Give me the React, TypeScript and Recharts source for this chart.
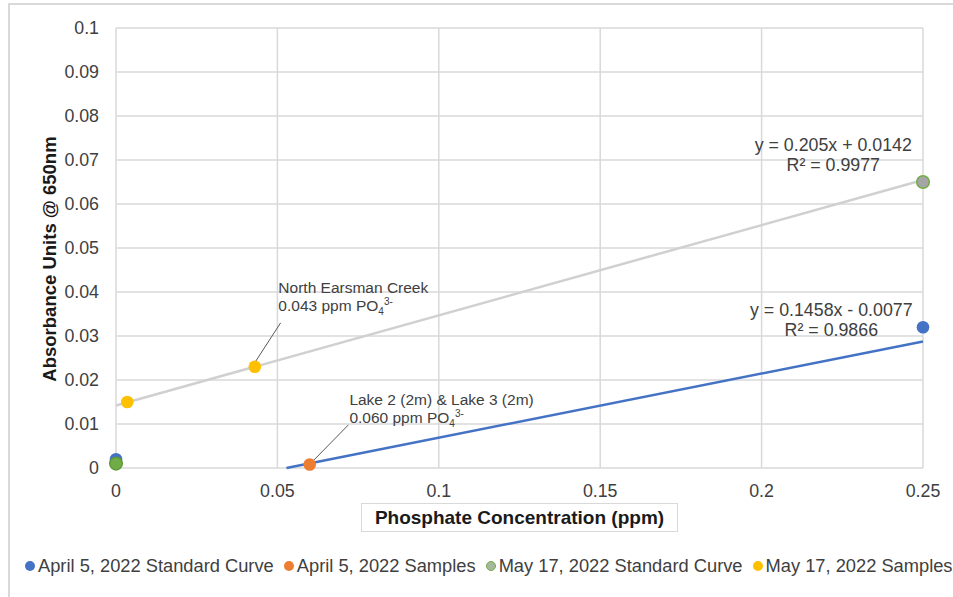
import React from 'react';
import {
    ScatterChart,
    Scatter,
    XAxis,
    YAxis,
    CartesianGrid,
    ReferenceLine,
    Legend,
    Cell
} from 'recharts';

// axis ticks
const xTicks = [0, 0.05, 0.1, 0.15, 0.2, 0.25];
const yTicks = [0, 0.01, 0.02, 0.03, 0.04, 0.05, 0.06, 0.07, 0.08, 0.09, 0.1];

// series
const seriesNames = [
    'April 5, 2022 Standard Curve',
    'April 5, 2022 Samples',
    'May 17, 2022 Standard Curve',
    'May 17, 2022 Samples'
];
const seriesColors = ['#4472C4', '#ED7D31', '#70AD47', '#FFC000'];

const aprStdX = [0, 0.25];
const aprStdY = [0.002, 0.032];
const aprSampleX = [0.06];
const aprSampleY = [0.0008];
const mayStdX = [0, 0.25];
const mayStdY = [0.001, 0.065];
const maySampleX = [0.0035, 0.043];
const maySampleY = [0.015, 0.023];

// linear trendlines (April, May)
const trendSlopes = [0.1458, 0.205];
const trendIntercepts = [-0.0077, 0.0142];
const trendColors = ['#4472C4', '#D0D0D0'];
const trendText = [
    ['y = 0.1458x - 0.0077', 'R² = 0.9866'],
    ['y = 0.205x + 0.0142', 'R² = 0.9977']
];
const trendLabelAt = [
    { x: 0.2216, y: 0.0345 },
    { x: 0.2222, y: 0.072 }
];

// callouts
const noteText = [
    ['North Earsman Creek', '0.043 ppm PO'],
    ['Lake 2 (2m) & Lake 3 (2m)', '0.060 ppm PO']
];
const noteAt = [
    { x: 0.0503, y: 0.0398 },
    { x: 0.0723, y: 0.0143 }
];
const noteLeaders = [
    [{ x: 0.051, y: 0.033 }, { x: 0.0426, y: 0.0235 }],
    [{ x: 0.072, y: 0.0098 }, { x: 0.0605, y: 0.0012 }]
];

const FONT = '"Liberation Sans", Arial, sans-serif';
const TEXT = '#404040';

const toPoints = (xs: number[], ys: number[]) => xs.map((x, i) => ({ x, y: ys[i] }));

const trendPoints = (m: number, b: number) => {
    const x0 = Math.max(0, -b / m);
    const x1 = xTicks[xTicks.length - 1];
    return [{ x: x0, y: m * x0 + b }, { x: x1, y: m * x1 + b }];
};

const Dot = (props: any) => (
    <circle
        cx={props.cx}
        cy={props.cy}
        r={6.3}
        fill={props.fill}
        stroke={props.stroke || 'none'}
        strokeWidth={props.strokeWidth || 0}
    />
);

const EquationShape = (lines: string[]) => (props: any) => (
    <text x={props.cx} y={props.cy} textAnchor="middle" fontFamily={FONT} fontSize={17.8} fill={TEXT}>
        <tspan x={props.cx}>{lines[0]}</tspan>
        <tspan x={props.cx} dy={20}>{lines[1]}</tspan>
    </text>
);

const NoteShape = (lines: string[]) => (props: any) => (
    <text x={props.cx} y={props.cy} fontFamily={FONT} fontSize={15.5} fill={TEXT}>
        <tspan x={props.cx}>{lines[0]}</tspan>
        <tspan x={props.cx} dy={18}>{lines[1]}</tspan>
        <tspan fontSize={10} dy={4}>4</tspan>
        <tspan fontSize={10} dy={-10}>3-</tspan>
    </text>
);

const renderLegend = () => (
    <div style={{ display: 'flex', fontFamily: FONT, fontSize: 18.3, color: TEXT, whiteSpace: 'nowrap' }}>
        {seriesNames.map((name, i) => (
            <div key={name} style={{ display: 'flex', alignItems: 'center', marginRight: 10 }}>
                <span
                    style={{
                        display: 'inline-block',
                        width: i === 2 ? 8 : 10,
                        height: i === 2 ? 8 : 10,
                        borderRadius: '50%',
                        background: i === 2 ? '#A9B79C' : seriesColors[i],
                        border: i === 2 ? '1px solid #70AD47' : 'none',
                        marginRight: 3
                    }}
                />
                {name}
            </div>
        ))}
    </div>
);

const App: React.FC = () => {
    return (
        <div style={{ position: 'absolute', left: 0, top: 0, width: 953, height: 597, overflow: 'hidden', background: '#fff' }}>
            <div
                style={{
                    position: 'absolute',
                    left: 8,
                    top: 3,
                    width: 1000,
                    height: 700,
                    border: '2px solid #D9D9D9'
                }}
            />
            <div style={{ position: 'absolute', left: 0, top: 0 }}>
                <ScatterChart width={953} height={597} margin={{ top: 28, right: 30, left: 0, bottom: 89 }}>
                    <CartesianGrid stroke="#D9D9D9" strokeWidth={1.5} horizontalValues={yTicks} verticalValues={xTicks} />
                    <XAxis
                        type="number"
                        dataKey="x"
                        domain={[0, 0.25]}
                        ticks={xTicks}
                        height={40}
                        axisLine={false}
                        tickLine={false}
                        tickSize={6}
                        tickMargin={10}
                        tick={{ fill: TEXT, fontSize: 17.8, fontFamily: FONT }}
                        interval={0}
                    />
                    <YAxis
                        type="number"
                        dataKey="y"
                        domain={[0, 0.1]}
                        ticks={yTicks}
                        width={116}
                        axisLine={false}
                        tickLine={false}
                        tickSize={6}
                        tickMargin={11}
                        tick={{ fill: TEXT, fontSize: 17.8, fontFamily: FONT }}
                        interval={0}
                    />

                    {/* trendlines */}
                    {trendSlopes.map((m, i) => (
                        <Scatter
                            key={`trend-${i}`}
                            data={trendPoints(m, trendIntercepts[i])}
                            line={{ stroke: trendColors[i], strokeWidth: 2.5 }}
                            shape={() => <g />}
                            legendType="none"
                            isAnimationActive={false}
                        />
                    ))}

                    {/* leaders */}
                    {noteLeaders.map((seg, i) => (
                        <ReferenceLine key={`lead-${i}`} segment={seg} stroke="#595959" strokeWidth={1} ifOverflow="visible" />
                    ))}

                    <Scatter name={seriesNames[0]} data={toPoints(aprStdX, aprStdY)} fill={seriesColors[0]} shape={Dot} isAnimationActive={false} />
                    <Scatter name={seriesNames[1]} data={toPoints(aprSampleX, aprSampleY)} fill={seriesColors[1]} shape={Dot} isAnimationActive={false} />
                    <Scatter name={seriesNames[2]} data={toPoints(mayStdX, mayStdY)} fill={seriesColors[2]} shape={Dot} isAnimationActive={false}>
                        {mayStdX.map((_, i) => (
                            <Cell
                                key={`may-${i}`}
                                fill={i === 1 ? '#A5A5A5' : seriesColors[2]}
                                stroke={i === 1 ? seriesColors[2] : '#5E9A3A'}
                                strokeWidth={1.5}
                            />
                        ))}
                    </Scatter>
                    <Scatter name={seriesNames[3]} data={toPoints(maySampleX, maySampleY)} fill={seriesColors[3]} shape={Dot} isAnimationActive={false} />

                    {/* equation labels */}
                    {trendText.map((lines, i) => (
                        <Scatter
                            key={`eq-${i}`}
                            data={[trendLabelAt[i]]}
                            shape={EquationShape(lines)}
                            legendType="none"
                            isAnimationActive={false}
                        />
                    ))}

                    {/* callout labels */}
                    {noteText.map((lines, i) => (
                        <Scatter
                            key={`note-${i}`}
                            data={[noteAt[i]]}
                            shape={NoteShape(lines)}
                            legendType="none"
                            isAnimationActive={false}
                        />
                    ))}

                    <Legend
                        layout="horizontal"
                        verticalAlign="middle"
                        content={renderLegend}
                        wrapperStyle={{ top: 555, left: 25, width: 'auto' }}
                    />
                </ScatterChart>
            </div>

            <div
                style={{
                    position: 'absolute',
                    left: 50,
                    top: 259,
                    transform: 'translate(-50%, -50%) rotate(-90deg)',
                    whiteSpace: 'nowrap',
                    fontFamily: FONT,
                    fontWeight: 'bold',
                    fontSize: 18.5,
                    color: '#1a1a1a'
                }}
            >
                Absorbance Units @ 650nm
            </div>
            <div
                style={{
                    position: 'absolute',
                    left: 361,
                    top: 503,
                    width: 317,
                    height: 29,
                    boxSizing: 'border-box',
                    border: '1.5px solid #D9D9D9',
                    fontFamily: FONT,
                    fontWeight: 'bold',
                    fontSize: 19,
                    color: '#1a1a1a',
                    display: 'flex',
                    alignItems: 'center',
                    justifyContent: 'center',
                    whiteSpace: 'nowrap'
                }}
            >
                Phosphate Concentration (ppm)
            </div>
        </div>
    );
};

export default App;
